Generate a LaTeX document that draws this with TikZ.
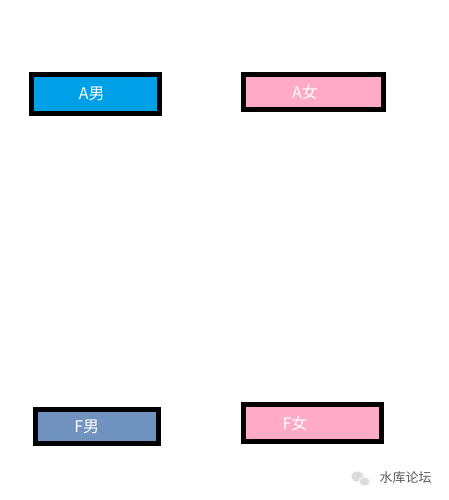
\documentclass[tikz,border=0pt]{standalone}
\usepackage{fontspec}
\newfontfamily\cjk{Noto Sans CJK SC}
\usepackage{xcolor}
\definecolor{maleblue}{HTML}{00A0E9}
\definecolor{femalepink}{HTML}{FFABC8}
\definecolor{greyblue}{HTML}{6F92BF}
\definecolor{markgray}{HTML}{5A5A5A}
\definecolor{iconfill}{HTML}{DCDCDC}

\begin{document}
\begin{tikzpicture}[x=1pt, y=-1pt,
    box/.style={draw=black, line width=5pt, rectangle, inner sep=0pt},
    txt/.style={text=white, font=\cjk\fontsize{16}{16}\selectfont}
]
\useasboundingbox (0,0) rectangle (448,500);

\node[box, fill=maleblue, minimum width=127.7pt, minimum height=38.4pt,
      label={[txt, xshift=-3.6pt]center:A男}] (amale) at (95.3,94) {};
\node[box, fill=femalepink, minimum width=139.7pt, minimum height=35pt,
      label={[txt, xshift=-8.3pt]center:A女}] (afemale) at (313.3,92.3) {};
\node[box, fill=greyblue, minimum width=123.3pt, minimum height=33.7pt,
      label={[txt, xshift=-10pt]center:F男}] (fmale) at (96.8,426.7) {};
\node[box, fill=femalepink, minimum width=138pt, minimum height=37pt,
      label={[txt, xshift=-17.5pt]center:F女}] (ffemale) at (312.5,423.3) {};

% watermark
\fill[iconfill, draw=white, line width=0.8pt] (357.5,476.5) ellipse [x radius=6.5, y radius=5.5];
\fill[iconfill, draw=white, line width=0.8pt] (364.5,481.5) ellipse [x radius=5.5, y radius=4.6];
\node[text=markgray, font=\cjk\fontsize{13}{13}\selectfont] (mark) at (405.5,478) {水库论坛};
\end{tikzpicture}
\end{document}
